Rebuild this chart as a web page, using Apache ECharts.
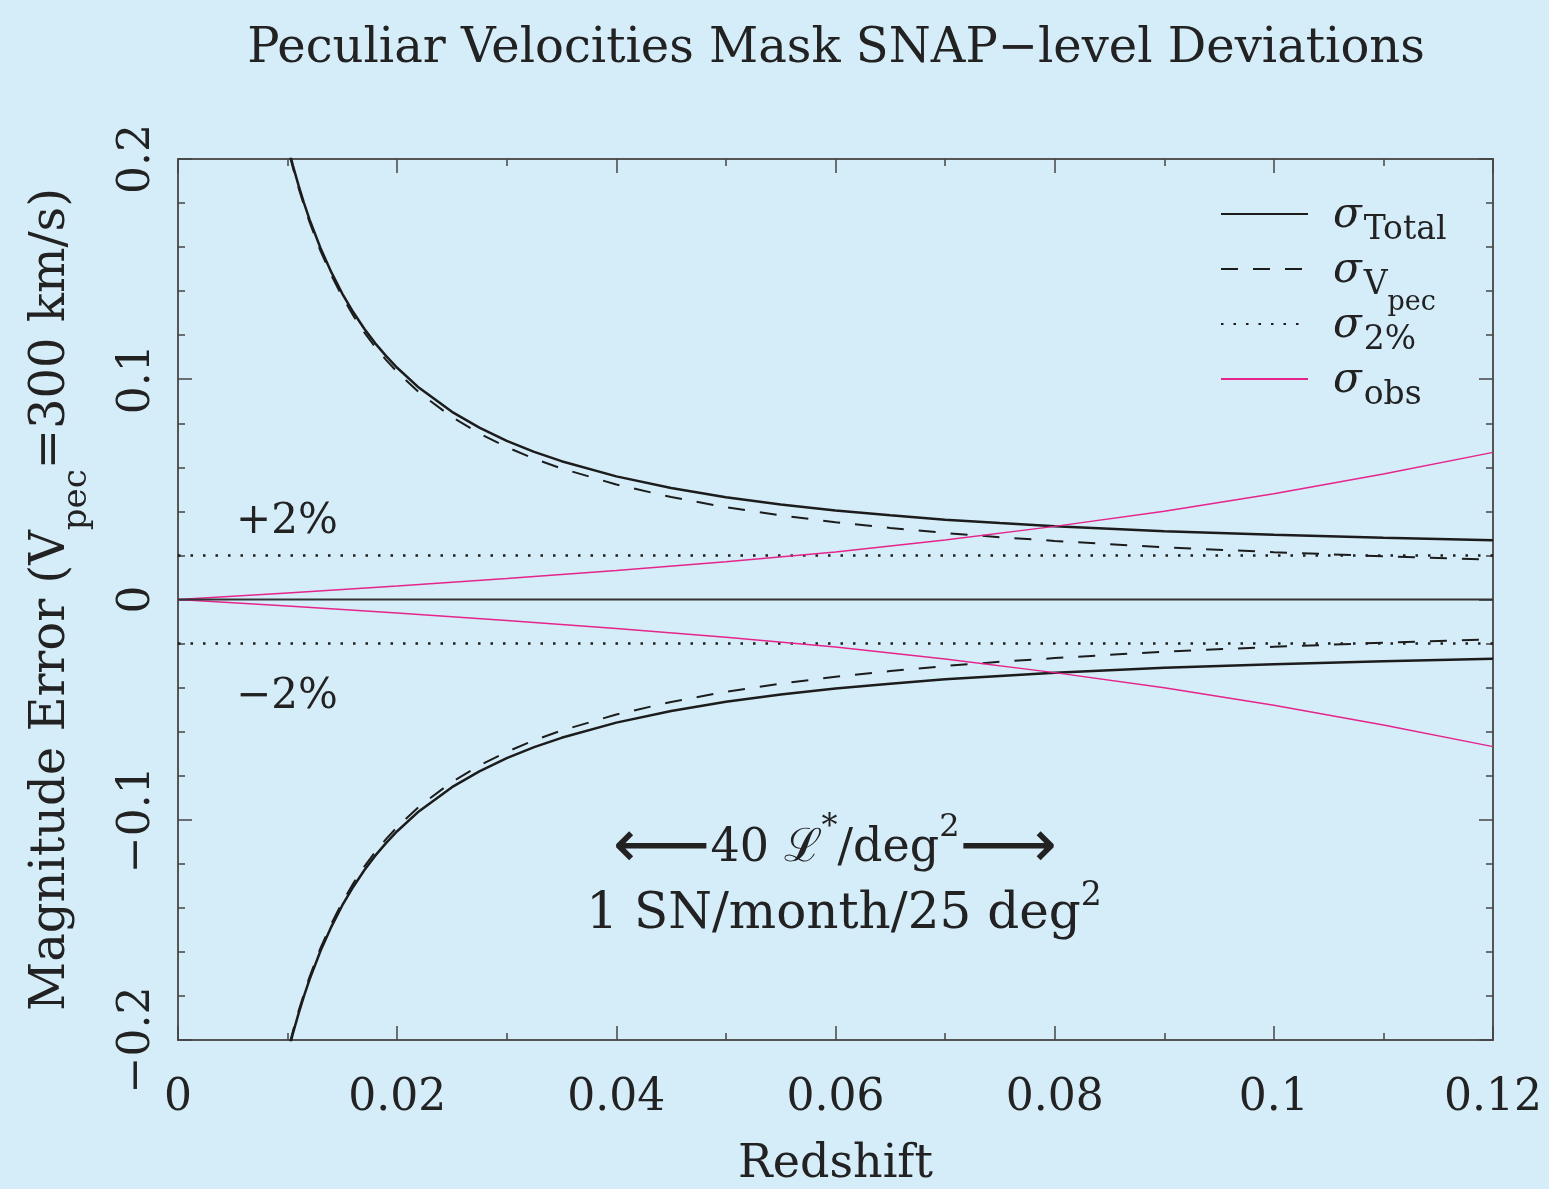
<!DOCTYPE html>
<html>
<head>
<meta charset="utf-8">
<title>Peculiar Velocities Mask SNAP-level Deviations</title>
<script src="https://cdn.jsdelivr.net/npm/echarts@6/dist/echarts.min.js"></script>
<style>
  html, body { margin: 0; padding: 0; background: #d5edf9; }
  #chart { width: 1549px; height: 1189px; }
</style>
</head>
<body>
<div id="chart"></div>
<script>
// redshift samples for the velocity curves
const zCurve = [0.0102, 0.0105, 0.011, 0.0115, 0.012, 0.013, 0.014, 0.015, 0.016, 0.017,
  0.018, 0.019, 0.02, 0.022, 0.025, 0.0275, 0.03, 0.0325, 0.035, 0.04,
  0.045, 0.05, 0.055, 0.06, 0.065, 0.07, 0.075, 0.08, 0.09, 0.1, 0.11, 0.12];

const totalUpper = [0.2025, 0.1968, 0.1880, 0.1800, 0.1726, 0.1596, 0.1485, 0.1388, 0.1304, 0.1229,
  0.1163, 0.1105, 0.1052, 0.0961, 0.0852, 0.0780, 0.0720, 0.0670, 0.0628, 0.0559,
  0.0506, 0.0464, 0.0431, 0.0404, 0.0382, 0.0362, 0.0347, 0.0333, 0.0310, 0.0294, 0.0280, 0.0269];
const totalLower = [-0.2025, -0.1968, -0.1880, -0.1800, -0.1726, -0.1596, -0.1485, -0.1388, -0.1304, -0.1229,
  -0.1163, -0.1105, -0.1052, -0.0961, -0.0852, -0.0780, -0.0720, -0.0670, -0.0628, -0.0559,
  -0.0506, -0.0464, -0.0431, -0.0404, -0.0382, -0.0362, -0.0347, -0.0333, -0.0310, -0.0294, -0.0280, -0.0269];

const vpecUpper = [0.2015, 0.1958, 0.1869, 0.1789, 0.1714, 0.1583, 0.1471, 0.1374, 0.1288, 0.1213,
  0.1146, 0.1087, 0.1033, 0.0940, 0.0828, 0.0754, 0.0692, 0.0639, 0.0595, 0.0522,
  0.0465, 0.0419, 0.0382, 0.0351, 0.0325, 0.0302, 0.0283, 0.0266, 0.0237, 0.0215, 0.0196, 0.0181];
const vpecLower = [-0.2015, -0.1958, -0.1869, -0.1789, -0.1714, -0.1583, -0.1471, -0.1374, -0.1288, -0.1213,
  -0.1146, -0.1087, -0.1033, -0.0940, -0.0828, -0.0754, -0.0692, -0.0639, -0.0595, -0.0522,
  -0.0465, -0.0419, -0.0382, -0.0351, -0.0325, -0.0302, -0.0283, -0.0266, -0.0237, -0.0215, -0.0196, -0.0181];

// observational error
const zObs = [0, 0.01, 0.02, 0.03, 0.04, 0.05, 0.06, 0.07, 0.08, 0.09, 0.1, 0.11, 0.12];
const obsUpper = [0, 0.0030, 0.0061, 0.0095, 0.0132, 0.0171, 0.0216, 0.0270, 0.0332, 0.0401, 0.0480, 0.0570, 0.0668];
const obsLower = [0, -0.0030, -0.0061, -0.0095, -0.0132, -0.0171, -0.0216, -0.0270, -0.0332, -0.0401, -0.0480, -0.0570, -0.0668];

// flat lines: +-2% and zero
const zFlat = [0, 0.12];
const pct2Upper = [0.02, 0.02];
const pct2Lower = [-0.02, -0.02];
const zeroLine = [0, 0];

const xTickLabels = ['0', '0.02', '0.04', '0.06', '0.08', '0.1', '0.12'];
const yTickLabels = ['\u22120.2', '\u22120.1', '0', '0.1', '0.2'];

const legendNames = ['Total', 'Vpec', '2%', 'obs'];
const legendLabels = {
  'Total': '{s|\u03c3}{sub|Total}',
  'Vpec': '{s|\u03c3}{sub|V}{pp|pec}',
  '2%': '{s|\u03c3}{sub|2%}',
  'obs': '{s|\u03c3}{sub|obs}'
};

const SERIF = '"DejaVu Serif", "Liberation Serif", serif';
const INK = '#222';
const CURVE = '#1c1c1c';
const PINK = '#e5258c';
const FRAME = '#555';

function pairs(xs, ys) {
  return xs.map((x, i) => [x, ys[i]]);
}

const chart = echarts.init(document.getElementById('chart'));

const tickStyle = { color: '#444', width: 1.5 };

function xAxisCfg(pos, labels) {
  return {
    type: 'value', position: pos, min: 0, max: 0.12, interval: 0.02,
    axisLine: { show: true, onZero: false, lineStyle: { color: FRAME, width: 2 } },
    axisTick: { show: true, inside: true, length: 14, lineStyle: tickStyle },
    minorTick: { show: true, splitNumber: 2, length: 7, lineStyle: tickStyle },
    splitLine: { show: false },
    axisLabel: {
      show: labels, margin: 37, fontSize: 44, fontFamily: SERIF, color: INK,
      formatter: v => xTickLabels[Math.round(v / 0.02)]
    }
  };
}

function yAxisCfg(pos, labels) {
  return {
    type: 'value', position: pos, min: -0.2, max: 0.2, interval: 0.1,
    axisLine: { show: true, onZero: false, lineStyle: { color: FRAME, width: 2 } },
    axisTick: { show: true, inside: true, length: 14, lineStyle: tickStyle },
    minorTick: { show: true, splitNumber: 5, length: 7, lineStyle: tickStyle },
    splitLine: { show: false },
    axisLabel: {
      show: labels, rotate: 90, margin: 18, fontSize: 44, fontFamily: SERIF, color: INK,
      formatter: v => yTickLabels[Math.round((v + 0.2) / 0.1)]
    }
  };
}

const xBottom = xAxisCfg('bottom', true);
xBottom.name = 'Redshift';
xBottom.nameLocation = 'middle';
xBottom.nameGap = 102;
xBottom.nameTextStyle = { fontSize: 46, fontFamily: SERIF, color: INK };

const yLeft = yAxisCfg('left', true);
yLeft.name = '{t|Magnitude Error (V}{sub|pec}{t|=300 km/s)}';
yLeft.nameLocation = 'middle';
yLeft.nameGap = 93;
yLeft.nameTextStyle = {
  fontSize: 48, fontFamily: SERIF, color: INK,
  rich: {
    t: { fontSize: 48, fontFamily: SERIF, color: INK, lineHeight: 48, padding: [0, 0, 18, 0] },
    sub: { fontSize: 34, fontFamily: SERIF, color: INK, lineHeight: 34, padding: [32, 0, 0, 0] }
  }
};

function lineSeries(name, data, color, width, type) {
  return {
    name: name, type: 'line', xAxisIndex: 0, yAxisIndex: 0,
    data: data, symbol: 'none', showSymbol: false, smooth: false,
    lineStyle: { color: color, width: width, type: type },
    itemStyle: { color: color },
    emphasis: { disabled: true }
  };
}

const dashed = [17, 15];
const dotted = [2.5, 10];

const option = {
  backgroundColor: '#d5edf9',
  animation: false,
  grid: { left: 178, right: 56, top: 159, bottom: 149, containLabel: false, outerBoundsMode: 'none' },
  xAxis: [xBottom, xAxisCfg('top', false)],
  yAxis: [yLeft, yAxisCfg('right', false)],
  legend: {
    left: 1220, top: 167, orient: 'vertical', padding: 0,
    itemGap: -39, itemWidth: 87, itemHeight: 2,
    itemStyle: { opacity: 0 },
    selectedMode: false,
    data: legendNames,
    formatter: name => legendLabels[name],
    textStyle: {
      color: INK, fontFamily: SERIF,
      rich: {
        s: { fontSize: 42, fontStyle: 'italic', fontFamily: SERIF, color: INK, lineHeight: 42, padding: [28, 0, 24, 20] },
        sub: { fontSize: 33, fontFamily: SERIF, color: INK, lineHeight: 33, padding: [47, 0, 14, 2] },
        pp: { fontSize: 27, fontFamily: SERIF, color: INK, lineHeight: 27, padding: [67, 0, 0, 0] }
      }
    }
  },
  series: [
    lineSeries('Total', pairs(zCurve, totalUpper), CURVE, 2.5, 'solid'),
    lineSeries('Total', pairs(zCurve, totalLower), CURVE, 2.5, 'solid'),
    lineSeries('Vpec', pairs(zCurve, vpecUpper), CURVE, 2, dashed),
    lineSeries('Vpec', pairs(zCurve, vpecLower), CURVE, 2, dashed),
    lineSeries('2%', pairs(zFlat, pct2Upper), CURVE, 2.5, dotted),
    lineSeries('2%', pairs(zFlat, pct2Lower), CURVE, 2.5, dotted),
    lineSeries('obs', pairs(zObs, obsUpper), PINK, 1.5, 'solid'),
    lineSeries('obs', pairs(zObs, obsLower), PINK, 1.5, 'solid'),
    lineSeries('zero', pairs(zFlat, zeroLine), '#333', 2, 'solid')
  ],
  graphic: [
    {
      type: 'text', x: 836, y: 50,
      style: {
        text: 'Peculiar Velocities Mask SNAP\u2212level Deviations',
        fontSize: 48, fontFamily: SERIF, fill: INK, align: 'center', verticalAlign: 'middle'
      }
    },
    {
      type: 'text', x: 236, y: 522,
      style: { text: '+2%', fontSize: 42, fontFamily: SERIF, fill: INK, align: 'left', verticalAlign: 'middle' }
    },
    {
      type: 'text', x: 236, y: 697,
      style: { text: '\u22122%', fontSize: 42, fontFamily: SERIF, fill: INK, align: 'left', verticalAlign: 'middle' }
    },
    {
      type: 'text', x: 835, y: 839,
      style: {
        text: '{a|\u27f5}{t|40 }{l|\u2112}{sup|*}{t|/deg}{sup|2}{a|\u27f6}',
        align: 'center', verticalAlign: 'middle', fill: INK,
        rich: {
          a: { fontSize: 68, fontFamily: '"DejaVu Sans", sans-serif', fill: INK, lineHeight: 46, padding: [20, 0, 0, 0] },
          t: { fontSize: 46, fontFamily: SERIF, fill: INK, lineHeight: 46, padding: [20, 0, 0, 0] },
          l: { fontSize: 46, fontFamily: SERIF, fill: INK, lineHeight: 46, padding: [20, 0, 0, 0] },
          sup: { fontSize: 32, fontFamily: SERIF, fill: INK, lineHeight: 32, padding: [6, 0, 28, 0] }
        }
      }
    },
    {
      type: 'text', x: 844, y: 905,
      style: {
        text: '{t|1 SN/month/25 deg}{sup|2}',
        align: 'center', verticalAlign: 'middle', fill: INK,
        rich: {
          t: { fontSize: 50, fontFamily: SERIF, fill: INK, lineHeight: 50, padding: [20, 0, 0, 0] },
          sup: { fontSize: 33, fontFamily: SERIF, fill: INK, lineHeight: 33, padding: [10, 0, 27, 0] }
        }
      }
    }
  ]
};

chart.setOption(option);
</script>
</body>
</html>
